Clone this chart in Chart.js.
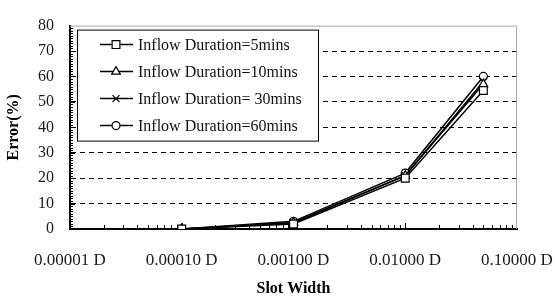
<!DOCTYPE html>
<html>
<head>
<meta charset="utf-8">
<script src="https://cdn.jsdelivr.net/npm/chart.js@4"></script>
<style>
  body { margin: 0; background: #fff; }
  #wrap { width: 555px; height: 302px; }
</style>
</head>
<body>
<div id="wrap"><canvas id="errChart"></canvas></div>
<script>
// data
const slotWidths = [0.0001, 0.001, 0.01, 0.05];
const seriesNames = ["Inflow Duration=5mins", "Inflow Duration=10mins", "Inflow Duration= 30mins", "Inflow Duration=60mins"];
const err5min = [0, 2, 20, 54.5];
const err10min = [0, 2.5, 21, 57];
const err30min = [0, 2.5, 21, 58];
const err60min = [0, 3, 22, 60];
const xTicks = [0.00001, 0.0001, 0.001, 0.01, 0.1];
const yTicks = [0, 10, 20, 30, 40, 50, 60, 70, 80];

const markers = ["rect", "triangle", "crossRot", "circle"];
const markerSize = [5.5, 5, 5, 4];
const allSeries = [err5min, err10min, err30min, err60min];

const serif = "'Liberation Serif', 'DejaVu Serif', serif";

function drawMarker(ctx, style, r, x, y) {
    ctx.save();
    ctx.fillStyle = "#fff";
    ctx.strokeStyle = "#000";
    ctx.lineWidth = 1.2;
    Chart.helpers.drawPoint(ctx, { pointStyle: style, radius: r, rotation: 0, borderWidth: 1.2 }, x, y);
    ctx.restore();
}

// frame, inner ticks and the boxed legend
const framePlugin = {
    id: "frame",
    beforeDatasetsDraw(chart) {
        const { ctx, chartArea: a, scales } = chart;
        ctx.save();
        ctx.strokeStyle = "#aaa";
        ctx.lineWidth = 1;
        ctx.beginPath();
        ctx.moveTo(a.left, a.top + 0.5);
        ctx.lineTo(a.right - 0.5, a.top + 0.5);
        ctx.lineTo(a.right - 0.5, a.bottom);
        ctx.stroke();

        ctx.strokeStyle = "#000";
        ctx.lineWidth = 1;
        ctx.beginPath();
        // minor y ticks every 1 unit
        for (let v = 1; v < 80; v++) {
            const y = Math.round(scales.y.getPixelForValue(v)) + 0.5;
            ctx.moveTo(a.left, y);
            ctx.lineTo(a.left + (v % 10 === 0 ? 5 : 3), y);
        }
        // log ticks on x, pointing up
        for (let d = 0; d < xTicks.length - 1; d++) {
            for (let m = 1; m <= 9; m++) {
                const x = Math.round(scales.x.getPixelForValue(xTicks[d] * m)) + 0.5;
                ctx.moveTo(x, a.bottom);
                ctx.lineTo(x, a.bottom - (m === 1 ? 6 : 4));
            }
        }
        ctx.stroke();
        ctx.restore();
    },
    afterDatasetsDraw(chart) {
        const { ctx, chartArea: a } = chart;
        const bx = a.left + 7, by = a.top + 4, bw = 241, bh = 111;
        ctx.save();
        ctx.fillStyle = "#fff";
        ctx.fillRect(bx, by, bw, bh);
        ctx.strokeStyle = "#000";
        ctx.lineWidth = 1;
        ctx.strokeRect(bx + 0.5, by + 0.5, bw, bh);
        ctx.font = "16px " + serif;
        ctx.textBaseline = "middle";
        ctx.fillStyle = "#111";
        seriesNames.forEach((name, i) => {
            const y = by + 15 + i * 27;
            ctx.beginPath();
            ctx.lineWidth = 1.5;
            ctx.moveTo(bx + 23, y);
            ctx.lineTo(bx + 56, y);
            ctx.stroke();
            drawMarker(ctx, markers[i], markerSize[i], bx + 39, y);
            ctx.fillText(name, bx + 61, y + 1);
        });
        ctx.restore();
    }
};

new Chart(document.getElementById("errChart"), {
    type: "line",
    data: {
        datasets: allSeries.map((vals, i) => ({
            label: seriesNames[i],
            data: vals.map((v, j) => ({ x: slotWidths[j], y: v })),
            borderColor: "#000",
            borderWidth: 1.5,
            backgroundColor: "#fff",
            pointStyle: markers[i],
            pointRadius: markerSize[i],
            pointBorderColor: "#000",
            pointBackgroundColor: "#fff",
            pointBorderWidth: 1.2,
            tension: 0
        }))
    },
    options: {
        responsive: true,
        maintainAspectRatio: false,
        animation: false,
        layout: { padding: { top: 15, right: 0, left: 0, bottom: 0 } },
        plugins: {
            legend: { display: false },
            tooltip: { enabled: false }
        },
        scales: {
            x: {
                type: "logarithmic",
                min: 0.00001,
                max: 0.1,
                afterBuildTicks: function(scale) {
                    scale.ticks = xTicks.map(v => ({ value: v }));
                },
                afterFit: function(scale) {
                    scale.height = 73;
                    scale.paddingLeft = 0;
                    scale.paddingRight = 38;
                },
                ticks: {
                    autoSkip: false,
                    maxRotation: 0,
                    padding: 21,
                    color: "#1a1a1a",
                    font: { family: serif, size: 17 },
                    callback: function(v) { return Number(v).toFixed(5) + " D"; }
                },
                grid: { display: false, drawTicks: false },
                border: { color: "#000", width: 2 },
                title: {
                    display: true,
                    text: "Slot Width",
                    color: "#000",
                    font: { family: serif, size: 16, weight: "bold" },
                    padding: { top: 1 }
                }
            },
            y: {
                min: 0,
                max: 80,
                afterBuildTicks: function(scale) {
                    scale.ticks = yTicks.map(v => ({ value: v }));
                },
                afterFit: function(scale) { scale.width = 70; },
                ticks: {
                    padding: 16,
                    color: "#1a1a1a",
                    font: { family: serif, size: 16 }
                },
                grid: {
                    drawTicks: false,
                    lineWidth: 1,
                    color: ctx => (ctx.tick && (ctx.tick.value === 0 || ctx.tick.value === 80)) ? "rgba(0,0,0,0)" : "#000"
                },
                border: { color: "#000", width: 2, dash: [5, 4] },
                title: {
                    display: true,
                    text: "Error(%)",
                    color: "#000",
                    font: { family: serif, size: 16, weight: "bold" },
                    padding: { bottom: 2 }
                }
            }
        }
    },
    plugins: [framePlugin]
});
</script>
</body>
</html>
